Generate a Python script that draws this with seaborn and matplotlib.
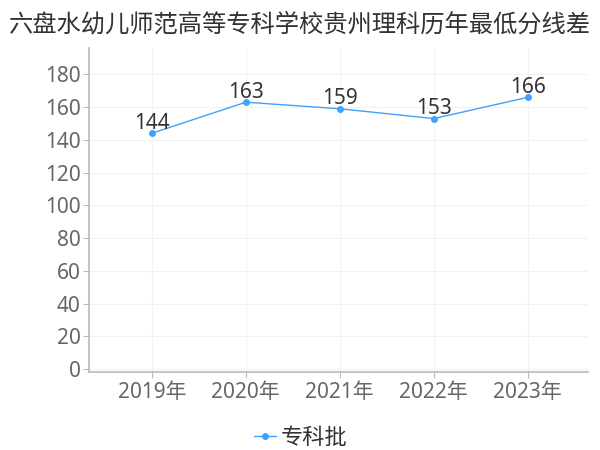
import matplotlib
matplotlib.use("Agg")
import matplotlib.pyplot as plt
import seaborn as sns
import pandas as pd

# data
years = ["2019年", "2020年", "2021年", "2022年", "2023年"]
scores = [144, 163, 159, 153, 166]
series_name = "专科批"
title = "六盘水幼儿师范高等专科学校贵州理科历年最低分线差"

sns.set_theme(style="white")
plt.rcParams['font.family'] = ['Noto Sans', 'Noto Sans CJK SC']

df = pd.DataFrame({"year": years, "score": scores})

fig = plt.figure(figsize=(6, 4.5), dpi=100)
ax = fig.add_axes([0.148, 0.173, 0.832, 0.72])

line_color = "#3fa1ff"
sns.lineplot(data=df, x="year", y="score", ax=ax, color=line_color, linewidth=1,
             marker="o", markersize=5, markeredgewidth=0, label=series_name, sort=False)

for i, v in enumerate(scores):
    ax.text(i, v + 2.6, str(v), ha="center", va="baseline", fontsize=15, color="#333333")

ax.set_ylim(-1.8, 196)
ax.set_xlim(-0.67, 4.64)
ax.set_yticks(range(0, 181, 20))
ax.set_xlabel("")
ax.set_ylabel("")
ax.grid(True, color="#f2f2f2", linewidth=0.8)
for side in ["top", "right"]:
    ax.spines[side].set_visible(False)
ax.spines["left"].set_color("#bbbbbb")
ax.spines["bottom"].set_color("#bbbbbb")
ax.tick_params(axis="both", labelsize=15, labelcolor="#666666", color="#bbbbbb",
               length=4, width=0.8, bottom=True, left=True)
ax.tick_params(axis="y", pad=2)
ax.tick_params(axis="x", pad=3)

fig.suptitle(title, x=0.5, y=0.975, fontsize=17.5, color="#333333",
             family=['Noto Sans CJK SC', 'DejaVu Sans'])

leg = ax.legend(loc="upper center", bbox_to_anchor=(0.424, -0.105), frameon=False,
                handlelength=1.0, handletextpad=0.2, labelcolor="#333333",
                prop={'family': ['Noto Sans CJK SC', 'DejaVu Sans'], 'size': 16})

fig.savefig("out.png", dpi=100)
